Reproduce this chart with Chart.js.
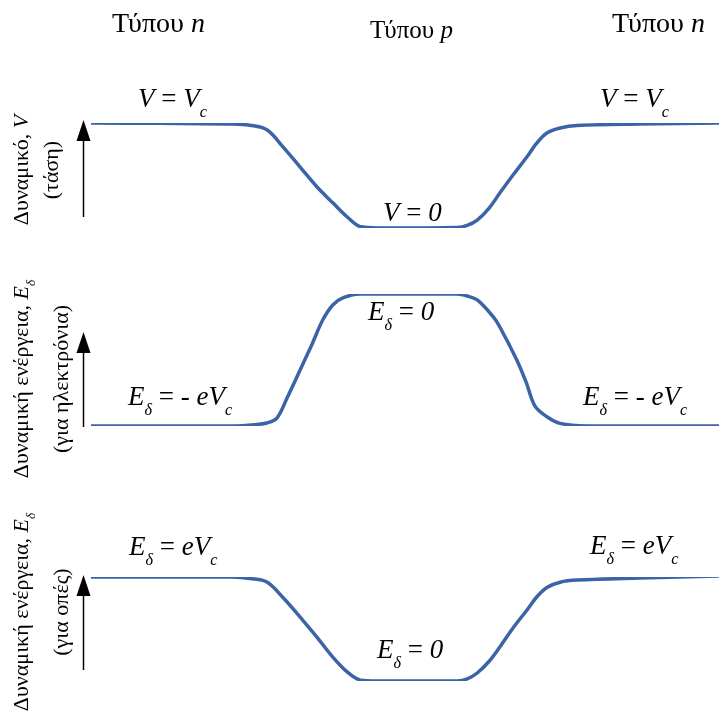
<!DOCTYPE html>
<html>
<head>
<meta charset="utf-8">
<script src="https://cdn.jsdelivr.net/npm/chart.js@4.4.1/dist/chart.umd.min.js"></script>
<style>
  html, body { margin: 0; padding: 0; background: #fff; }
  #fig { position: relative; width: 719px; height: 724px; overflow: hidden;
         font-family: "Liberation Serif", "DejaVu Serif", serif; color: #000; }
  #fig canvas { position: absolute; }
  .t { position: absolute; white-space: nowrap; line-height: 1; }
  .i { font-style: italic; }
  .sb { font-size: 0.6em; vertical-align: -10px; font-style: italic; }
  .ylab { position: absolute; width: 240px; transform-origin: 0 0; transform: rotate(-90deg);
          text-align: center; white-space: nowrap; font-size: 22px; line-height: 30px; }
  .ylab .sb { font-size: 0.6em; vertical-align: -7px; }
  svg { position: absolute; left: 0; top: 0; }
</style>
</head>
<body>
<div id="fig">
  <canvas id="c1" width="628" height="125" style="left:91px; top:113px;"></canvas>
  <canvas id="c2" width="628" height="152" style="left:91px; top:284px;"></canvas>
  <canvas id="c3" width="628" height="124" style="left:91px; top:567px;"></canvas>
  <svg id="arrows" width="719" height="724"></svg>
</div>
<script>
// Position across the n-p-n structure (0 = left edge, 100 = right edge)
const posPotential = [0, 11.0, 22.6, 25.3, 28.0, 30.6, 33.3, 36.0, 38.5, 40.8, 42.8, 46.0,
                      58.3, 59.9, 61.5, 63.4, 65.1, 67.2, 69.4, 71.0, 72.6, 74.7, 77.4, 87.4, 100];
// Electric potential V, in units of Vc
const potential = [1.0, 0.997, 0.99, 0.978, 0.935, 0.77, 0.58, 0.39, 0.24, 0.105, 0.015, 0.0,
                   0.005, 0.025, 0.076, 0.19, 0.333, 0.505, 0.676, 0.81, 0.905, 0.952, 0.976, 0.99, 1.0];

const posElectron = [0, 22.6, 26.1, 28.0, 29.6, 31.2, 33.3, 35.2, 36.9, 38.5, 40.1, 42.8,
                     58.3, 59.9, 61.5, 64.0, 65.1, 67.8, 69.3, 70.7, 72.6, 74.7, 79.0, 100];
// Potential energy of electrons, in units of eVc
const electronEnergy = [-1.0, -1.0, -0.99, -0.977, -0.94, -0.79, -0.576, -0.38, -0.197, -0.083, -0.03, 0,
                        0, -0.015, -0.045, -0.17, -0.25, -0.5, -0.67, -0.85, -0.93, -0.98, -1.0, -1.0];

const posHole = [0, 22.6, 25.3, 28.0, 30.6, 33.3, 36.0, 38.5, 40.8, 42.8, 46.0,
                 58.3, 59.9, 61.5, 63.4, 65.1, 67.2, 69.4, 71.0, 72.6, 74.7, 77.4, 87.4, 100];
// Potential energy of holes, in units of eVc
const holeEnergy = [1.0, 1.0, 0.986, 0.952, 0.80, 0.615, 0.42, 0.23, 0.087, 0.01, 0,
                    0, 0.02, 0.077, 0.19, 0.327, 0.51, 0.68, 0.81, 0.90, 0.95, 0.97, 0.99, 1.01];

const regionTypes = ['n', 'p', 'n'];

const lineColor = '#3b64a7';

function makeChart(id, xs, ys, yMin, yMax) {
  const pts = xs.map((x, k) => ({ x: x, y: ys[k] }));
  return new Chart(document.getElementById(id), {
    type: 'line',
    data: { datasets: [{ data: pts, borderColor: lineColor, borderWidth: 3.5,
                         pointRadius: 0, tension: 0.35, fill: false }] },
    options: {
      responsive: false, animation: false, devicePixelRatio: 1,
      layout: { padding: { top: 10, bottom: 10, left: 0, right: 0 } },
      plugins: { legend: { display: false }, tooltip: { enabled: false } },
      scales: {
        x: { type: 'linear', min: 0, max: 100, display: false },
        y: { min: yMin, max: yMax, display: false }
      }
    }
  });
}

makeChart('c1', posPotential, potential, 0, 1);
makeChart('c2', posElectron, electronEnergy, -1, 0);
makeChart('c3', posHole, holeEnergy, 0, 1);

const fig = document.getElementById('fig');

function addText(html, left, baseline, size, cls) {
  const d = document.createElement('div');
  d.className = 't' + (cls ? ' ' + cls : '');
  d.style.fontSize = size + 'px';
  d.style.left = left + 'px';
  d.style.top = (baseline - 0.84 * size) + 'px';
  d.innerHTML = html;
  fig.appendChild(d);
}

// Region headers
const headerSpec = [[112, 33, 28], [370, 38, 25], [612, 33, 28]];
regionTypes.forEach((t, k) => {
  const s = headerSpec[k];
  addText('Τύπου <span class="i">' + t + '</span>', s[0], s[1], s[2]);
});

// Level labels
const Vc = '<span class="i">V</span> = <span class="i">V</span><span class="sb">c</span>';
const Ed = '<span class="i">E</span><span class="sb">δ</span>';
addText(Vc, 138, 108, 27);
addText(Vc, 600, 108, 27);
addText('<span class="i">V</span> = <span class="i">0</span>', 383, 222, 27);
addText(Ed + ' = <span class="i">0</span>', 368, 321, 27);
addText(Ed + ' = - <span class="i">eV</span><span class="sb">c</span>', 128, 406, 27);
addText(Ed + ' = - <span class="i">eV</span><span class="sb">c</span>', 583, 406, 27);
addText(Ed + ' = <span class="i">eV</span><span class="sb">c</span>', 129, 556, 27);
addText(Ed + ' = <span class="i">eV</span><span class="sb">c</span>', 590, 555, 27);
addText(Ed + ' = <span class="i">0</span>', 377, 659, 27);

// Rotated axis titles
function addYLabel(lines, center) {
  const d = document.createElement('div');
  d.className = 'ylab';
  d.style.left = '6px';
  d.style.top = (center + 120) + 'px';
  d.innerHTML = lines.join('<br>');
  fig.appendChild(d);
}
const EdRot = '<span class="i">E</span><span class="sb">δ</span>';
addYLabel(['Δυναμικό, <span class="i">V</span>', '(τάση)'], 170);
addYLabel(['Δυναμική ενέργεια, ' + EdRot, '(για ηλεκτρόνια)'], 379);
addYLabel(['Δυναμική ενέργεια, ' + EdRot, '(για οπές)'], 612);

// Upward arrows beside each axis title
const svg = document.getElementById('arrows');
const NS = 'http://www.w3.org/2000/svg';
[[217, 120], [427, 332], [670, 575]].forEach(([bottom, tip]) => {
  const x = 83.5;
  const l = document.createElementNS(NS, 'line');
  l.setAttribute('x1', x); l.setAttribute('x2', x);
  l.setAttribute('y1', bottom); l.setAttribute('y2', tip + 18);
  l.setAttribute('stroke', '#000'); l.setAttribute('stroke-width', '1.5');
  svg.appendChild(l);
  const p = document.createElementNS(NS, 'path');
  p.setAttribute('d', `M${x} ${tip} L${x + 7} ${tip + 21} L${x - 7} ${tip + 21} Z`);
  p.setAttribute('fill', '#000');
  svg.appendChild(p);
});
</script>
</body>
</html>
